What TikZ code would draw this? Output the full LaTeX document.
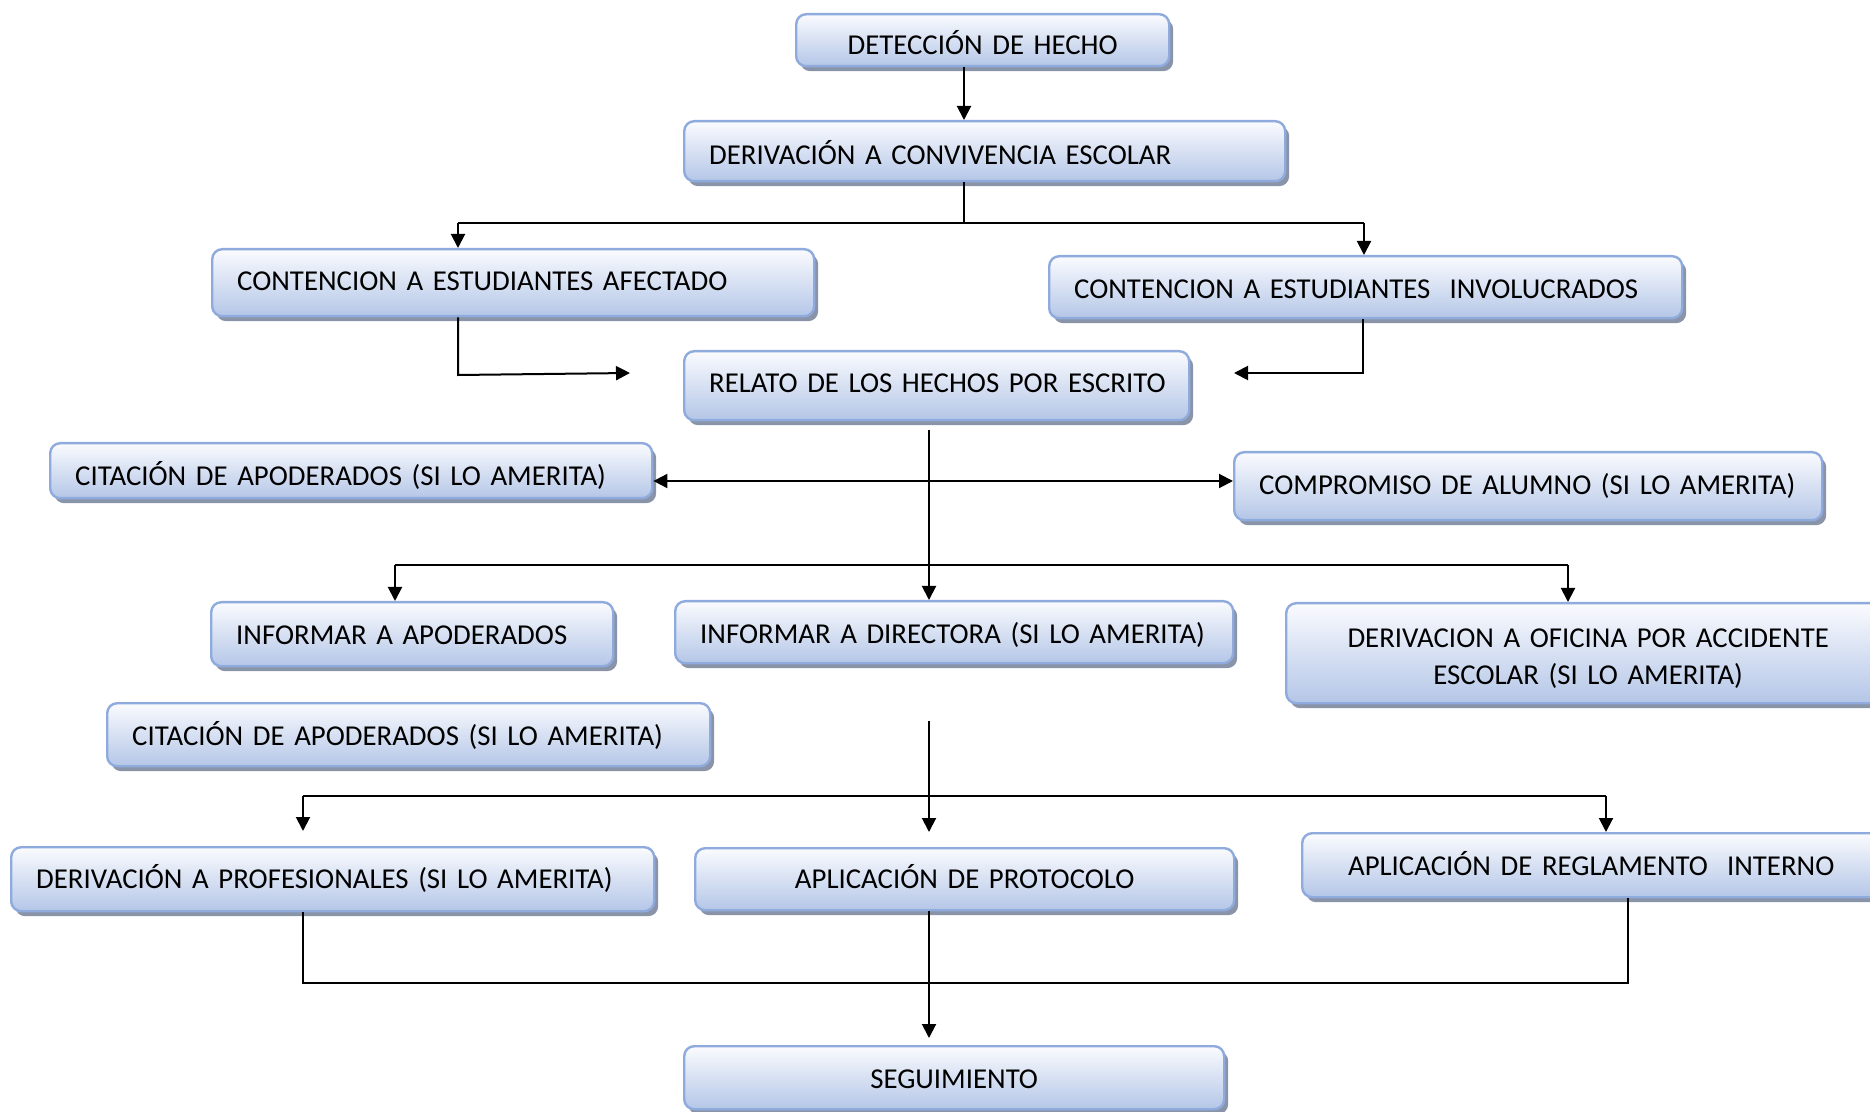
\documentclass[tikz,border=0pt]{standalone}
\usepackage{fontspec}
\setmainfont{Carlito}
\usetikzlibrary{arrows.meta,shadows}
\definecolor{boxline}{RGB}{143,170,220}
\definecolor{boxtop}{RGB}{250,251,254}
\definecolor{boxbot}{RGB}{180,198,231}
\definecolor{boxshadow}{RGB}{138,148,168}

\begin{document}
\begin{tikzpicture}[x=0.5pt,y=-0.5pt,
  box/.style={draw=boxline, line width=1.2pt, rounded corners=5pt,
    top color=boxtop, bottom color=boxbot,
    drop shadow={shadow xshift=2pt, shadow yshift=-2.5pt, fill=boxshadow, opacity=1},
    anchor=north west, inner xsep=12.5pt, inner ysep=0pt,
    font=\fontsize{14.4}{18.5}\selectfont, text height=9.3pt, text depth=0pt},
  lbox/.style={box, align=left},
  cbox/.style={box, align=center},
  link/.style={line width=1pt, draw=black},
  tip/.tip={Triangle[length=7pt,width=7pt]},
  arr/.style={link, -tip},
]
\useasboundingbox (0,0) rectangle (1870,1112);

% boxes
\node[cbox, text width=161.5pt, minimum height=26pt, text height=14.8pt] (det) at (795,13) {DETECCIÓN DE HECHO};
\node[lbox, text width=275.5pt, minimum height=30pt, text height=13.3pt] (conv) at (683,120) {\mbox{DERIVACIÓN A CONVIVENCIA ESCOLAR}};
\node[lbox, text width=276pt, minimum height=33.5pt, text height=8.3pt] (afect) at (211,248) {\mbox{CONTENCION A ESTUDIANTES AFECTADO}};
\node[lbox, text width=291.5pt, minimum height=31pt, text height=11.3pt] (invol) at (1048,255) {\mbox{CONTENCION A ESTUDIANTES~ INVOLUCRADOS}};
\node[lbox, text width=227.5pt, minimum height=34.5pt, text depth=2pt] (relato) at (683,350) {\mbox{RELATO DE LOS HECHOS POR ESCRITO}};
\node[lbox, text width=276pt, minimum height=27.5pt, text height=14.8pt] (cit1) at (49,442) {\mbox{CITACIÓN DE APODERADOS (SI LO AMERITA)}};
\node[lbox, text width=269pt, minimum height=34pt, text depth=1pt] (compr) at (1233,451) {\mbox{COMPROMISO DE ALUMNO (SI LO AMERITA)}};
\node[lbox, text width=176pt, minimum height=32pt, text height=10.3pt] (infapod) at (210,601) {\mbox{INFORMAR A APODERADOS}};
\node[lbox, text width=254pt, minimum height=31pt, text height=11.3pt] (infdir) at (674,600) {\mbox{INFORMAR A DIRECTORA (SI LO AMERITA)}};
\node[cbox, text width=277pt, minimum height=50pt, text height=12.8pt, text depth=18.5pt] (oficina) at (1285,602) {DERIVACION A OFICINA POR ACCIDENTE\\ESCOLAR (SI LO AMERITA)};
\node[lbox, text width=276.5pt, minimum height=31.5pt, text height=10.8pt] (cit2) at (106,702) {\mbox{CITACIÓN DE APODERADOS (SI LO AMERITA)}};
\node[lbox, text width=296.5pt, minimum height=32pt] (prof) at (10,846) {\mbox{DERIVACIÓN A PROFESIONALES (SI LO AMERITA)}};
\node[cbox, text width=244.5pt, minimum height=31pt] (prot) at (694,847) {APLICACIÓN DE PROTOCOLO};
\node[cbox, text width=264pt, minimum height=32pt, text height=10.3pt] (regl) at (1301,832) {\mbox{APLICACIÓN DE REGLAMENTO~ INTERNO}};
\node[cbox, text width=245pt, minimum height=31.5pt, text height=10.8pt] (seg) at (683,1045) {SEGUIMIENTO};

% junction points
\coordinate (j1)  at (964,223);
\coordinate (j1l) at (458,223);
\coordinate (j1r) at (1364,223);
\coordinate (j2l) at (458,375);
\coordinate (t2l) at (630,373);
\coordinate (j2r) at (1363,373);
\coordinate (t2r) at (1234,373);
\coordinate (s1)  at (929,430);
\coordinate (h1)  at (929,481);
\coordinate (j3l) at (395,565);
\coordinate (j3r) at (1568,565);
\coordinate (s2)  at (929,721);
\coordinate (t4)  at (929,832);
\coordinate (j4l) at (303,796);
\coordinate (j4r) at (1606,796);
\coordinate (t4l) at (303,831);
\coordinate (b1)  at (303,983);
\coordinate (b2)  at (1628,983);

% connectors
\draw[arr] (det.south -| j1) -- (conv.north -| j1);
\draw[link] (conv.south -| j1) -- (j1);
\draw[link] (j1l) -- (j1r);
\draw[arr] (j1l) -- (afect.north -| j1l);
\draw[arr] (j1r) -- (invol.north -| j1r);

\draw[arr] (afect.south -| j2l) -- (j2l) -- (t2l);
\draw[arr] (invol.south -| j2r) -- (j2r) -- (t2r);

\draw[arr] (s1) -- (infdir.north -| s1);
\draw[link, tip-tip] (cit1.east |- h1) -- (compr.west |- h1);
\draw[link] (j3l) -- (j3r);
\draw[arr] (j3l) -- (infapod.north -| j3l);
\draw[arr] (j3r) -- (oficina.north -| j3r);

\draw[arr] (s2) -- (t4);
\draw[link] (j4l) -- (j4r);
\draw[arr] (j4l) -- (t4l);
\draw[arr] (j4r) -- (regl.north -| j4r);

\draw[link] (prof.south -| b1) -- (b1) -- (b2) -- (regl.south -| b2);
\draw[arr, shorten >=3.5pt] (prot.south -| s1) -- (seg.north -| s1);
\end{tikzpicture}
\end{document}
